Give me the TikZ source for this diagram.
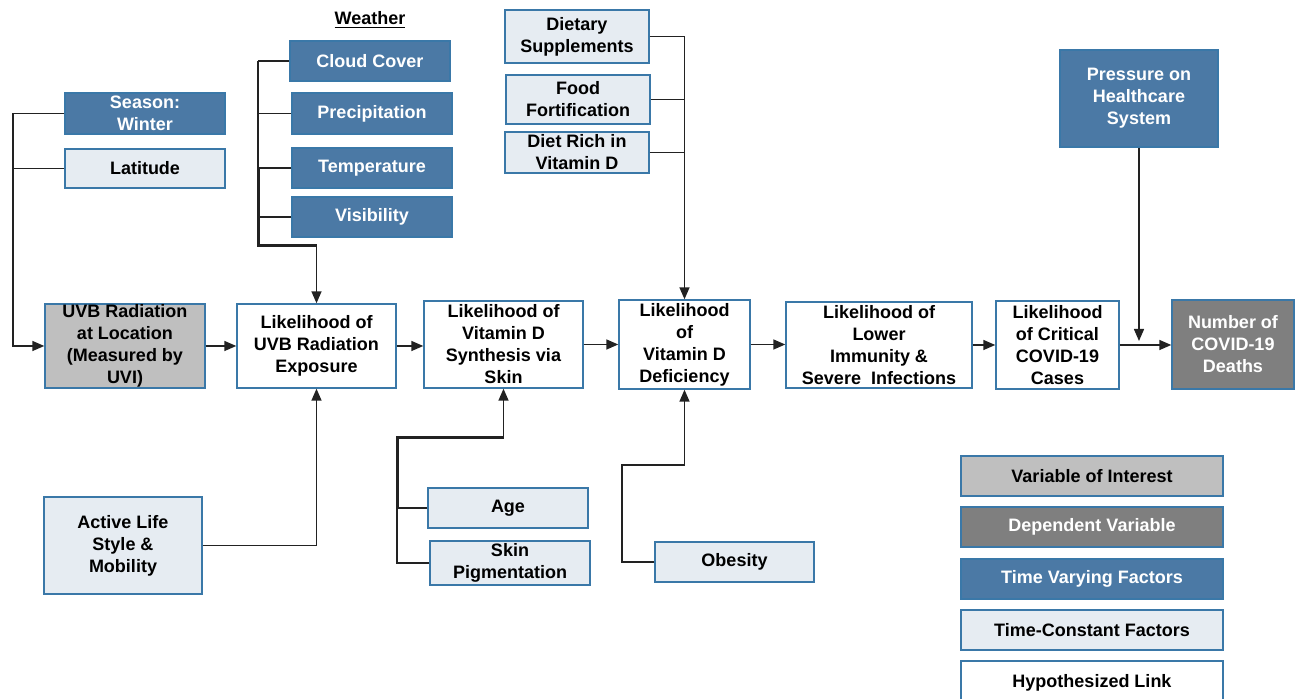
\documentclass[tikz,border=0pt]{standalone}
\usepackage{fontspec}
\setmainfont{Liberation Sans}
\usetikzlibrary{arrows.meta}
\definecolor{boxline}{HTML}{3A78A8}
\definecolor{varyblue}{HTML}{4B79A5}
\definecolor{constblue}{HTML}{E6ECF2}
\definecolor{interestgray}{HTML}{BFBFBF}
\definecolor{depgray}{HTML}{7F7F7F}
\definecolor{linkline}{HTML}{222222}

\begin{document}
\begin{tikzpicture}[x=0.5pt,y=-0.5pt,
        >={Triangle[length=6pt,width=5pt]},
        box/.style={draw=boxline,line width=0.7pt,align=center,inner sep=0pt,
            font=\fontsize{9}{11}\selectfont\bfseries},
        hyp/.style={box,fill=white},
        vary/.style={box,fill=varyblue,text=white},
        const/.style={box,fill=constblue},
        interest/.style={box,fill=interestgray},
        dep/.style={box,fill=depgray,text=white},
        link/.style={draw=linkline,line width=0.75pt}]
            \useasboundingbox (0,0) rectangle (1298,699);

            %\node[above] at (650,0) {UVB and COVID-19};
            \node[font=\fontsize{9}{11}\selectfont\bfseries](weather) at (370,20) {\underline{Weather}};
            \node[vary, minimum width=80pt, minimum height=20pt](cloud) at (370,61) {Cloud Cover};
            \node[vary, minimum width=80pt, minimum height=20.5pt](precip) at (372,113.5) {Precipitation};
            \node[vary, minimum width=80pt, minimum height=20pt](temp) at (372,168) {Temperature};
            \node[vary, minimum width=80pt, minimum height=20pt](visib) at (372,217) {Visibility};
            \node[vary, minimum width=80pt, minimum height=20.5pt](season) at (145,113.5) {Season:\\Winter};
            \node[const, minimum width=80pt, minimum height=19.5pt](lat) at (145,168.5) {Latitude};

            \node[interest, minimum width=80pt, minimum height=42pt](uvb) at (125,346) {UVB Radiation\\at Location\\(Measured by\\UVI)};
            \node[hyp, minimum width=79.5pt, minimum height=42pt](expo) at (316.5,346) {Likelihood of\\UVB Radiation\\Exposure};
            \node[hyp, minimum width=79.5pt, minimum height=43.5pt](synth) at (503.5,344.5) {Likelihood of\\Vitamin D\\Synthesis via\\Skin};
            \node[hyp, minimum width=65.5pt, minimum height=44.5pt](defic) at (684.5,344.5) {Likelihood\\of\\Vitamin D\\Deficiency};
            \node[hyp, minimum width=93pt, minimum height=43pt](immun) at (879,345) {Likelihood of\\Lower\\Immunity \&\\Severe~ Infections};
            \node[hyp, minimum width=61.5pt, minimum height=44pt](crit) at (1057.5,345) {Likelihood\\of Critical\\COVID-19\\Cases};
            \node[dep, minimum width=61pt, minimum height=44.5pt](deaths) at (1233,344.5) {Number of\\COVID-19\\Deaths};
            \node[vary, minimum width=79pt, minimum height=48.5pt](press) at (1139,98.5) {Pressure on\\Healthcare\\System};

            \node[const, minimum width=72pt, minimum height=26.5pt](suppl) at (577,36.5) {Dietary\\Supplements};
            \node[const, minimum width=72pt, minimum height=24.5pt](fortif) at (578,99.5) {Food\\Fortification};
            \node[const, minimum width=72pt, minimum height=20.5pt](diet) at (577,152.5) {Diet Rich in\\Vitamin D};

            \node[const, minimum width=79pt, minimum height=48.5pt](active) at (123,545.5) {Active Life\\Style \&\\Mobility};
            \node[const, minimum width=80pt, minimum height=20pt](age) at (508,508) {Age};
            \node[const, minimum width=80pt, minimum height=22pt](skin) at (510,563) {Skin\\Pigmentation};
            \node[const, minimum width=79.5pt, minimum height=20pt](obes) at (734.5,562) {Obesity};

            \node[interest, minimum width=131pt, minimum height=20pt](leg1) at (1092,476) {Variable of Interest};
            \node[dep, minimum width=131pt, minimum height=20pt](leg2) at (1092,527) {Dependent Variable};
            \node[vary, minimum width=131pt, minimum height=20pt](leg3) at (1092,579) {Time Varying Factors};
            \node[const, minimum width=131pt, minimum height=20pt](leg4) at (1092,630) {Time-Constant Factors};
            \node[hyp, minimum width=131pt, minimum height=22pt](leg5) at (1092,683) {Hypothesized Link};

            \coordinate (lbar) at (13,0);
            \coordinate (wbar) at (258,0);
            \coordinate (wknee) at (258,246);
            \coordinate (sknee) at (397,438);
            \coordinate (oknee) at (622,465);

            \draw[link,->] (uvb) -- (expo);
            \draw[link,->] (expo.east) -- (expo.east -| synth.west);
            \draw[link,->] (synth.east) -- (synth.east -| defic.west);
            \draw[link,->] (defic.east) -- (defic.east -| immun.west);
            \draw[link,->] (immun.east) -- (immun.east -| crit.west);
            \draw[link,->] (crit.east) -- (crit.east -| deaths.west);
            \draw[link,->] (press.south) -- ([yshift=2pt]press.south |- crit.east);

            \draw[link,->] (season.west) -- (season.west -| lbar) |- (uvb.west);
            \draw[link] (lat.west) -- (lat.west -| lbar);

        \foreach \w in {cloud,precip,temp,visib}
            \draw[link] (\w.west) -- (\w.west -| wbar);
            \draw[link] (cloud.west -| wbar) -- (temp.west -| wbar);
            \draw[link,line width=1.5pt] (temp.west -| wbar) -- (wknee) -- (wknee -| expo.north);
            \draw[link,->] (wknee -| expo.north) -- (expo.north);

            \draw[link,->] (suppl.east) -| (defic.north);
            \draw[link] (fortif.east) -- (fortif.east -| defic.north);
            \draw[link] (diet.east) -- (diet.east -| defic.north);

            \draw[link,->] (active.east) -| (expo.south);

            \draw[link] (age.west) -- (age.west -| sknee);
            \draw[link] (skin.west) -- (skin.west -| sknee) -- (age.west -| sknee);
            \draw[link,line width=1.5pt] (age.west -| sknee) -- (sknee) -- (sknee -| synth.south);
            \draw[link,->] (sknee -| synth.south) -- (synth.south);

            \draw[link,->] (obes.west) -| (oknee) -| (defic.south);
        \end{tikzpicture}
\end{document}
